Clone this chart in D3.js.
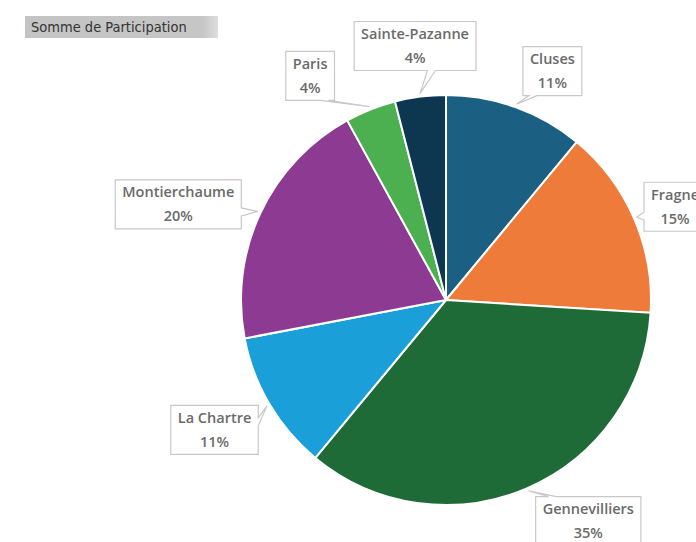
<!DOCTYPE html>
<html>
<head>
<meta charset="utf-8">
<script src="https://cdn.jsdelivr.net/npm/d3@7"></script>
<style>
    body { margin: 0; background: #fff; }
    svg { display: block; }
</style>
</head>
<body>
<div id="chart"></div>
<script>
// Data
const sites = ["Cluses", "Fragne", "Gennevilliers", "La Chartre", "Montierchaume", "Paris", "Sainte-Pazanne"];
const participation = [11, 15, 35, 11, 20, 4, 4];
const colors = ["#1b5f82", "#ee7b3a", "#1e6b38", "#1a9fd8", "#8d3a92", "#4cb050", "#0d3650"];

// Layout
const width = 696, height = 542;
const cx = 446, cy = 300, radius = 205;
// small nudges for the callout boxes (Excel "best fit")
const labelNudge = {
    "Cluses": [20, 11], "Fragne": [-5, 8], "Gennevilliers": [41, -13], "La Chartre": [-12, 0],
    "Montierchaume": [-37, 13], "Paris": [-42, 13], "Sainte-Pazanne": [1, -1]
};

const svg = d3.select("#chart").append("svg")
    .attr("width", width)
    .attr("height", height);

// Title button
const defs = svg.append("defs");
const grad = defs.append("linearGradient").attr("id", "titleGrad");
grad.append("stop").attr("offset", "0%").attr("stop-color", "#c4c4c4");
grad.append("stop").attr("offset", "92%").attr("stop-color", "#c6c6c6");
grad.append("stop").attr("offset", "100%").attr("stop-color", "#dedede");
svg.append("rect").attr("x", 25).attr("y", 16).attr("width", 193).attr("height", 22)
    .attr("fill", "url(#titleGrad)");
svg.append("text").attr("x", 31).attr("y", 31.5)
    .style("font-family", "'DejaVu Sans Condensed', 'Liberation Sans', sans-serif")
    .style("font-size", "14.5px").attr("fill", "#333")
    .text("Somme de Participation");

// Pie
const pie = d3.pie().sort(null).value(d => d);
const arcs = pie(participation);
const arc = d3.arc().innerRadius(0).outerRadius(radius);
const labelArc = d3.arc().innerRadius(255).outerRadius(255);
const tipArc = d3.arc().innerRadius(radius + 3).outerRadius(radius + 3);

const g = svg.append("g").attr("transform", `translate(${cx},${cy})`);

g.selectAll("path.slice")
    .data(arcs)
    .enter().append("path")
    .attr("class", "slice")
    .attr("d", arc)
    .attr("fill", (d, i) => colors[i])
    .attr("stroke", "#fff")
    .attr("stroke-width", 2);

// Callout path: rectangle with a wedge pointing at (tx, ty), all in box-local coords
function calloutPath(w, h, tx, ty) {
    const hw = w / 2, hh = h / 2;
    const b = 4; // half base of the wedge
    let side;
    if (Math.abs(ty) > hh) side = ty > 0 ? "bottom" : "top";
    else side = tx > 0 ? "right" : "left";
    const clampX = v => Math.max(-hw + 6, Math.min(hw - 6 - 2 * b, v));
    const clampY = v => Math.max(-hh + 6, Math.min(hh - 6 - 2 * b, v));
    let p = `M${-hw},${-hh}`;
    if (side === "top") {
        const bx = clampX(tx * 0.5 + (tx > 0 ? 10 : -10));
        p += `L${bx},${-hh}L${tx},${ty}L${bx + 2 * b},${-hh}`;
    }
    p += `L${hw},${-hh}`;
    if (side === "right") {
        const by = clampY(ty * 0.5);
        p += `L${hw},${by}L${tx},${ty}L${hw},${by + 2 * b}`;
    }
    p += `L${hw},${hh}`;
    if (side === "bottom") {
        const bx = clampX(tx * 0.5 + (tx > 0 ? 10 : -10));
        p += `L${bx + 2 * b},${hh}L${tx},${ty}L${bx},${hh}`;
    }
    p += `L${-hw},${hh}`;
    if (side === "left") {
        const by = clampY(ty * 0.5);
        p += `L${-hw},${by + 2 * b}L${tx},${ty}L${-hw},${by}`;
    }
    return p + "Z";
}

const total = d3.sum(participation);
const font = "'Open Sans', 'Noto Sans', sans-serif";

g.selectAll("g.label")
    .data(arcs)
    .enter().append("g")
    .attr("class", "label")
    .each(function (d, i) {
        const name = sites[i];
        const c = labelArc.centroid(d);
        const n = labelNudge[name];
        const x = c[0] + n[0], y = c[1] + n[1];
        const tip = tipArc.centroid(d);
        const lg = d3.select(this).attr("transform", `translate(${x},${y})`);
        const box = lg.append("path");
        const t1 = lg.append("text").attr("text-anchor", "middle").attr("y", -7)
            .style("font-family", font).style("font-size", "14.5px").style("font-weight", 600)
            .attr("fill", "#6a6a6a").text(name);
        lg.append("text").attr("text-anchor", "middle").attr("y", 17)
            .style("font-family", font).style("font-size", "14.5px").style("font-weight", 600)
            .attr("fill", "#6a6a6a").text(Math.round(d.value / total * 100) + "%");
        const w = t1.node().getComputedTextLength() + 14;
        const h = 49;
        box.attr("d", calloutPath(w, h, tip[0] - x, tip[1] - y))
            .attr("fill", "#fff")
            .attr("stroke", "#c8c8c8")
            .attr("stroke-width", 1.2);
    });
</script>
</body>
</html>
